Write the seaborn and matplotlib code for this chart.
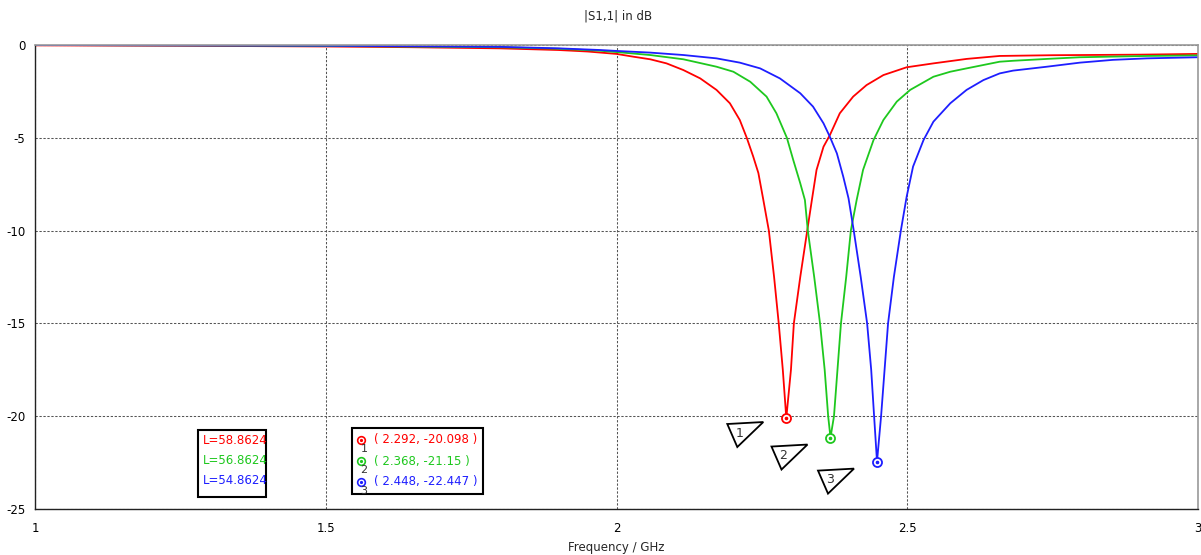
import matplotlib
matplotlib.use("Agg")
import matplotlib.pyplot as plt
import matplotlib.transforms as mtransforms
from matplotlib.patches import Polygon, Rectangle
from matplotlib.lines import Line2D
import seaborn as sns
import pandas as pd

# ---------------- data ----------------
red_f = [1.0, 1.25, 1.5, 1.65, 1.8, 1.9, 1.95, 2.0, 2.029, 2.058, 2.086, 2.115, 2.144,
         2.172, 2.195, 2.212, 2.224, 2.235, 2.244, 2.252, 2.262, 2.271, 2.279, 2.286,
         2.292, 2.300, 2.305, 2.316, 2.328, 2.336, 2.344, 2.356, 2.367, 2.384, 2.407,
         2.430, 2.459, 2.499, 2.545, 2.602, 2.659, 2.75, 2.9, 3.0]
red_db = [-0.02, -0.04, -0.08, -0.12, -0.18, -0.27, -0.35, -0.48, -0.63, -0.77, -0.99,
          -1.35, -1.8, -2.42, -3.14, -4.04, -5.0, -6.0, -6.9, -8.26, -10.0, -12.5,
          -15.0, -17.5, -20.098, -17.5, -15.0, -12.5, -10.0, -8.35, -6.73, -5.48,
          -4.85, -3.68, -2.78, -2.16, -1.62, -1.2, -0.99, -0.75, -0.59, -0.55, -0.52,
          -0.48]

green_f = [1.0, 1.25, 1.5, 1.8, 1.9, 1.972, 2.0, 2.058, 2.115, 2.172, 2.201, 2.230,
           2.258, 2.275, 2.293, 2.304, 2.316, 2.324, 2.329, 2.340, 2.350, 2.358, 2.364,
           2.368, 2.374, 2.380, 2.386, 2.395, 2.403, 2.413, 2.424, 2.442, 2.459, 2.482,
           2.505, 2.545, 2.574, 2.602, 2.659, 2.682, 2.74, 2.797, 2.912, 3.0]
green_db = [0.0, -0.02, -0.05, -0.12, -0.2, -0.31, -0.38, -0.54, -0.77, -1.17, -1.44,
            -1.98, -2.78, -3.68, -5.0, -6.2, -7.45, -8.35, -10.0, -12.5, -15.0, -17.5,
            -20.0, -21.15, -20.0, -17.5, -15.0, -12.5, -10.0, -8.35, -6.73, -5.12,
            -4.04, -3.05, -2.42, -1.71, -1.44, -1.26, -0.9, -0.85, -0.75, -0.66,
            -0.59, -0.56]

blue_f = [1.0, 1.25, 1.5, 1.8, 1.9, 1.972, 2.0, 2.058, 2.115, 2.172, 2.212, 2.247,
          2.281, 2.316, 2.338, 2.356, 2.367, 2.379, 2.390, 2.399, 2.408, 2.420, 2.431,
          2.438, 2.443, 2.448, 2.455, 2.461, 2.467, 2.477, 2.489, 2.499, 2.510, 2.528,
          2.545, 2.574, 2.602, 2.631, 2.659, 2.682, 2.74, 2.797, 2.854, 2.912, 3.0]
blue_db = [0.0, -0.02, -0.04, -0.1, -0.18, -0.27, -0.32, -0.41, -0.54, -0.72, -0.95,
           -1.26, -1.8, -2.6, -3.32, -4.22, -4.95, -5.84, -7.1, -8.26, -10.0, -12.5,
           -15.0, -17.5, -20.0, -22.447, -20.0, -17.5, -15.0, -12.5, -10.0, -8.17,
           -6.55, -5.12, -4.13, -3.14, -2.42, -1.89, -1.53, -1.38, -1.17, -0.95,
           -0.8, -0.72, -0.66]

lengths = ["L=58.8624", "L=56.8624", "L=54.8624"]
marker_f = [2.292, 2.368, 2.448]
marker_db = [-20.098, -21.15, -22.447]
marker_ids = ["1", "2", "3"]
colors = ["#ff0000", "#1ec81e", "#1e1eff"]

x_ticks = [1, 1.5, 2, 2.5, 3]
x_tick_labels = ["1", "1.5", "2", "2.5", "3"]
y_ticks = [0, -5, -10, -15, -20, -25]

df = pd.concat([
    pd.DataFrame({"f": red_f, "db": red_db, "L": lengths[0]}),
    pd.DataFrame({"f": green_f, "db": green_db, "L": lengths[1]}),
    pd.DataFrame({"f": blue_f, "db": blue_db, "L": lengths[2]}),
])

# ---------------- style ----------------
sns.set_theme(style="white")
plt.rcParams['font.family'] = ['DejaVu Sans']
plt.rcParams['axes.unicode_minus'] = False

W, H = 1201, 555
fig = plt.figure(figsize=(W / 100, H / 100), dpi=100)
ax = fig.add_axes([35 / W, 1 - 509 / H, (1198 - 35) / W, (509 - 45) / H])

sns.lineplot(data=df, x="f", y="db", hue="L", palette=colors, sort=False,
             estimator=None, linewidth=1.3, legend=False, ax=ax)
for ln in ax.get_lines():
    ln.set_solid_joinstyle("round")

ax.set_xlim(1, 3)
ax.set_ylim(-25, 0)
ax.set_xticks(x_ticks)
ax.set_xticklabels(x_tick_labels)
ax.set_yticks(y_ticks)
ax.set_yticklabels([str(v) for v in y_ticks])
ax.tick_params(axis="both", labelsize=8.5, length=3, width=0.8, colors="#333333",
               labelcolor="black", direction="out", pad=4)
ax.tick_params(axis="x", pad=6)

# dotted grid
ax.grid(True, color="#555555", linewidth=0.75, linestyle=(0, (2.2, 1.6)))
for s in ["left", "bottom"]:
    ax.spines[s].set_color("#222222")
    ax.spines[s].set_linewidth(1.0)
for s in ["top", "right"]:
    ax.spines[s].set_color("#999999")
    ax.spines[s].set_linewidth(1.2)

ax.set_xlabel("Frequency / GHz", fontsize=8.5)
ax.xaxis.set_label_coords(0.5, -(548 - 509) / (509 - 45))
ax.xaxis.label.set_va("center")
ax.set_ylabel("")
fig.text(618 / W, 1 - 16 / H, "|S1,1| in dB", ha="center", va="center", fontsize=8.5)

# min markers on the curves
for f, d, c in zip(marker_f, marker_db, colors):
    ax.plot(f, d, marker="o", ms=6.5, mfc="white", mec=c, mew=1.3, zorder=5)
    ax.plot(f, d, marker="o", ms=1.6, color=c, zorder=6)

# triangular marker tags
tri = [(-59, -6), (-23, -4), (-49, -29)]
for f, d, lab in zip(marker_f, marker_db, marker_ids):
    tr = fig.dpi_scale_trans + mtransforms.ScaledTranslation(f, d, ax.transData)
    extra = 0 if lab == "1" else -3
    pts = [(x / 100, (y + extra) / 100) for x, y in tri]
    ax.add_patch(Polygon(pts, closed=True, fill=True, facecolor="white",
                         edgecolor="black", linewidth=1.3, transform=tr,
                         clip_on=False, zorder=7))
    ax.text(-0.47, (-15 + extra) / 100, lab, transform=tr, fontsize=9,
            color="#333333", ha="center", va="center", zorder=8)

# length legend box
fig.add_artist(Rectangle((198 / W, 1 - 497 / H), 68 / W, 67 / H, fill=False,
                         edgecolor="black", linewidth=1.5, transform=fig.transFigure))
for i, (t, c) in enumerate(zip(lengths, colors)):
    fig.text(203 / W, 1 - (441 + 20 * i) / H, t, color=c, fontsize=8.5,
             ha="left", va="center")

# marker values box
fig.add_artist(Rectangle((352 / W, 1 - 494 / H), 131 / W, 66 / H, fill=False,
                         edgecolor="black", linewidth=1.5, transform=fig.transFigure))
for i, (f, d, lab, c) in enumerate(zip(marker_f, marker_db, marker_ids, colors)):
    yy = 1 - (440 + 21 * i) / H
    fig.add_artist(Line2D([361 / W], [yy], marker="o", ms=5.5, mfc="white", mec=c,
                          mew=1.2, transform=fig.transFigure))
    fig.add_artist(Line2D([361 / W], [yy], marker="o", ms=1.3, color=c,
                          transform=fig.transFigure))
    fig.text(364 / W, yy - 9 / H, lab, color="#333333", fontsize=8, ha="center",
             va="center")
    fig.text(374 / W, yy, "( {}, {} )".format(f, d), color=c, fontsize=8.5,
             ha="left", va="center")

fig.savefig("out.png", dpi=100)
